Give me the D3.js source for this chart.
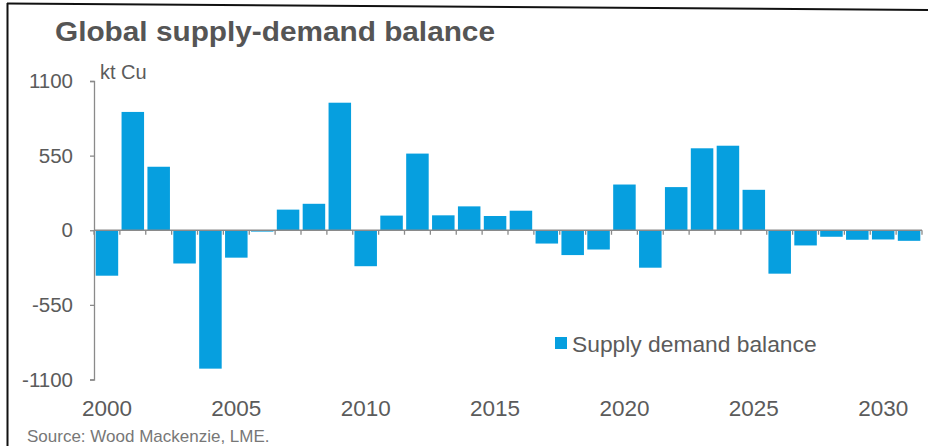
<!DOCTYPE html>
<html><head><meta charset="utf-8">
<script src="https://cdn.jsdelivr.net/npm/d3@7"></script>
<style>html,body{margin:0;padding:0;background:#fff;}svg{display:block;}</style>
</head><body>
<svg id="c" width="928" height="446"></svg>
<script>
const years = [2000,2001,2002,2003,2004,2005,2006,2007,2008,2009,2010,2011,2012,2013,2014,2015,2016,2017,2018,2019,2020,2021,2022,2023,2024,2025,2026,2027,2028,2029,2030,2031];
const balance = [-335,872,468,-245,-1020,-202,-10,152,195,940,-265,108,565,110,176,105,144,-98,-183,-142,337,-276,318,604,623,298,-320,-112,-48,-70,-68,-78];
const yTicks = [1100,550,0,-550,-1100];
const xLabelYears = [2000,2005,2010,2015,2020,2025,2030];
const seriesName = "Supply demand balance";
const titleText = "Global supply-demand balance";
const unitText = "kt Cu";
const sourceText = "Source: Wood Mackenzie, LME.";

const svg = d3.select("#c");
const font = "Liberation Sans, Arial, sans-serif";
const textCol = "#5b5b5b";
const barCol = "#069fdf";
const axisCol = "#8a8a8a";

// frame
svg.append("line").attr("x1",7).attr("y1",3.5).attr("x2",928).attr("y2",10)
  .attr("stroke","#111").attr("stroke-width",2);
svg.append("line").attr("x1",7.5).attr("y1",3).attr("x2",7.5).attr("y2",446)
  .attr("stroke","#111").attr("stroke-width",2);

const x = d3.scaleBand().domain(years).range([94,922]).paddingInner(0.13).paddingOuter(0.065);
const y = d3.scaleLinear().domain([-1100,1100]).range([379.5,81]);

// bars
svg.append("g").selectAll("rect").data(years).join("rect")
  .attr("x", d => x(d))
  .attr("width", x.bandwidth())
  .attr("y", (d,i) => y(Math.max(0, balance[i])))
  .attr("height", (d,i) => Math.abs(y(balance[i]) - y(0)))
  .attr("fill", barCol);

// y axis
const yAxis = svg.append("g").attr("transform","translate(94,0)")
  .call(d3.axisLeft(y).tickValues(yTicks).tickSize(4).tickPadding(17).tickFormat(d3.format("d")));
yAxis.select(".domain").attr("stroke",axisCol).attr("stroke-width",1.3);
yAxis.selectAll(".tick line").attr("stroke",axisCol).attr("stroke-width",1.3);
yAxis.selectAll(".tick text").attr("fill",textCol).attr("font-size",20.5).attr("font-family",font)
  .text(d => d < 0 ? "-" + Math.abs(d) : d);

// x axis along zero with ticks at band boundaries
const boundaries = d3.range(years.length + 1).map(i => 94 + i * (828 / years.length));
const zg = svg.append("g");
zg.append("line").attr("x1",94).attr("x2",922).attr("y1",y(0)).attr("y2",y(0))
  .attr("stroke",axisCol).attr("stroke-width",1.5);
zg.selectAll("line.t").data(boundaries).join("line").attr("class","t")
  .attr("x1",d=>d).attr("x2",d=>d).attr("y1",y(0)).attr("y2",y(0)+4.5)
  .attr("stroke",axisCol).attr("stroke-width",1.3);

// x labels
svg.append("g").selectAll("text").data(xLabelYears).join("text")
  .attr("x", d => x(d) + x.bandwidth()/2)
  .attr("y", 416)
  .attr("text-anchor","middle")
  .attr("font-family",font).attr("font-size",22.5).attr("fill",textCol)
  .text(d => d);

// title
svg.append("text").attr("x",55).attr("y",41).attr("font-family",font)
  .attr("font-weight","bold").attr("font-size",28).attr("fill","#555")
  .attr("textLength",440).attr("lengthAdjust","spacingAndGlyphs")
  .text(titleText);

// unit
svg.append("text").attr("x",100).attr("y",79).attr("font-family",font)
  .attr("font-size",20).attr("fill",textCol).text(unitText);

// legend
svg.append("rect").attr("x",555).attr("y",337).attr("width",12).attr("height",12).attr("fill",barCol);
svg.append("text").attr("x",572).attr("y",352).attr("font-family",font)
  .attr("font-size",22.8).attr("fill",textCol).text(seriesName);

// source
svg.append("text").attr("x",27).attr("y",442).attr("font-family",font)
  .attr("font-size",17).attr("fill","#777").text(sourceText);
</script>
</body></html>
